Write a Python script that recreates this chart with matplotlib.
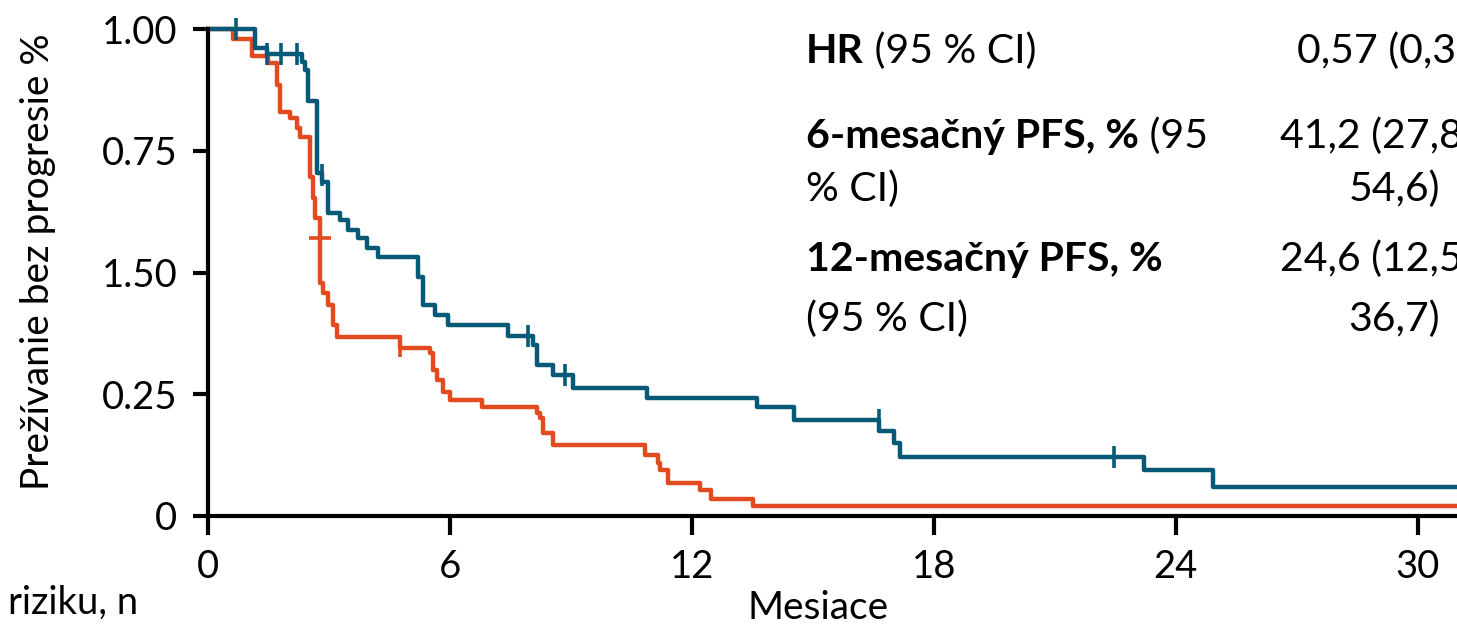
import numpy as np
import matplotlib
matplotlib.use("Agg")
import matplotlib.pyplot as plt

plt.rcParams['font.family'] = ['Lato', 'DejaVu Sans']

# Kaplan-Meier estimates (months, survival fraction)
blue_t = [0, 1.17, 1.46, 2.33, 2.41, 2.48, 2.70, 2.83, 2.98, 3.28,
          3.47, 3.72, 3.95, 4.22, 5.21, 5.33, 5.63, 5.96, 7.44, 8.06,
          8.16, 8.56, 9.06, 10.89, 13.62, 14.52, 16.63, 17.0, 17.17, 23.2,
          24.91]
blue_s = [1.0, 0.962, 0.949, 0.932, 0.916, 0.852, 0.704, 0.686, 0.622, 0.608,
          0.587, 0.571, 0.550, 0.532, 0.491, 0.433, 0.413, 0.392, 0.370, 0.351,
          0.310, 0.290, 0.263, 0.242, 0.224, 0.197, 0.175, 0.150, 0.121, 0.094,
          0.060]
blue_cens_t = [0.70, 1.46, 1.81, 2.21, 2.83, 7.94, 8.86, 16.63, 22.46]
blue_cens_s = [1.0, 0.949, 0.949, 0.949, 0.700, 0.370, 0.290, 0.197, 0.121]
blue_cens_m = ['|'] * 9

orange_t = [0, 0.62, 1.09, 1.50, 1.71, 1.79, 2.03, 2.21, 2.28, 2.53,
            2.61, 2.66, 2.78, 2.85, 2.98, 3.10, 3.20, 4.76, 5.51, 5.58,
            5.68, 5.83, 6.0, 6.80, 8.16, 8.24, 8.31, 8.56, 10.84, 11.17,
            11.22, 11.41, 12.21, 12.46, 13.52]
orange_s = [1.0, 0.979, 0.944, 0.930, 0.885, 0.830, 0.817, 0.797, 0.778, 0.696,
            0.653, 0.612, 0.478, 0.458, 0.433, 0.392, 0.368, 0.345, 0.335, 0.300,
            0.279, 0.255, 0.238, 0.224, 0.211, 0.201, 0.170, 0.146, 0.125, 0.109,
            0.094, 0.068, 0.053, 0.035, 0.021]
orange_cens_t = [2.78, 4.76]
orange_cens_s = [0.571, 0.350]
orange_cens_m = ['+', '|']

x_ticks = [0, 6, 12, 18, 24, 30]
y_ticks = [0, 0.25, 0.5, 0.75, 1.0]
y_ticklabels = ['0', '0.25', '1.50', '0.75', '1.00']

BLUE = '#075a77'
ORANGE = '#e14b1f'
XMAX = 30.97
W, H = 1457, 625

fig = plt.figure(figsize=(W / 100, H / 100), dpi=100)
ax = fig.add_axes([208 / W, 1 - 516 / H, 1 - 208 / W, (516 - 29) / H])

for t, s, ct, cs, cm, col in [
        (orange_t, orange_s, orange_cens_t, orange_cens_s, orange_cens_m, ORANGE),
        (blue_t, blue_s, blue_cens_t, blue_cens_s, blue_cens_m, BLUE)]:
    tt = np.append(t, XMAX + 1)
    ss = np.append(s, s[-1])
    ax.step(tt, ss, where='post', color=col, lw=3.2, clip_on=False)
    for x, y, m in zip(ct, cs, cm):
        ax.plot([x], [y], linestyle='none', marker=m, color=col,
                markersize=16, markeredgewidth=2.6, clip_on=False)

ax.set_xlim(0, XMAX)
ax.set_ylim(0, 1.0)
ax.set_xticks(x_ticks)
ax.set_xticklabels([str(v) for v in x_ticks])
ax.set_yticks(y_ticks)
ax.set_yticklabels(y_ticklabels)

for side in ['top', 'right']:
    ax.spines[side].set_visible(False)
for side in ['left', 'bottom']:
    ax.spines[side].set_linewidth(3.0)
    ax.spines[side].set_capstyle('projecting')

ax.tick_params(axis='x', direction='out', length=14, width=3.0, pad=10, labelsize=27.5)
ax.tick_params(axis='y', direction='out', length=11, width=3.0, pad=11, labelsize=27.5)

fig.text(38 / W, 1 - 262 / H, 'Prežívanie bez progresie %', rotation=90,
         ha='center', va='center', fontsize=28)
fig.text(818 / W, 1 - 608 / H, 'Mesiace', ha='center', va='center', fontsize=28)
fig.text(8 / W, 1 - 603 / H, 'riziku, n', ha='left', va='center', fontsize=27.5)

# HR / PFS summary block
FS = 29.5

def line(x, y, parts):
    tx = x / W
    for txt, weight in parts:
        t = fig.text(tx, 1 - y / H, txt, ha='left', va='baseline',
                     fontsize=FS, fontweight=weight)
        fig.canvas.draw()
        tx = t.get_window_extent().x1 / fig.bbox.width

line(806, 63, [('HR', 'bold'), (' (95 % CI)', 'normal')])
line(806, 148, [('6-mesačný PFS, %', 'bold'), (' (95', 'normal')])
line(806, 201, [('% CI)', 'normal')])
line(806, 271, [('12-mesačný PFS, %', 'bold')])
line(806, 331, [('(95 % CI)', 'normal')])

fig.text(1297 / W, 1 - 63 / H, '0,57 (0,3', ha='left', va='baseline', fontsize=FS)
fig.text(1280 / W, 1 - 148 / H, '41,2 (27,8', ha='left', va='baseline', fontsize=FS)
fig.text(1440 / W, 1 - 201 / H, '54,6)', ha='right', va='baseline', fontsize=FS)
fig.text(1280 / W, 1 - 271 / H, '24,6 (12,5', ha='left', va='baseline', fontsize=FS)
fig.text(1440 / W, 1 - 331 / H, '36,7)', ha='right', va='baseline', fontsize=FS)

fig.savefig('out.png', dpi=100)
